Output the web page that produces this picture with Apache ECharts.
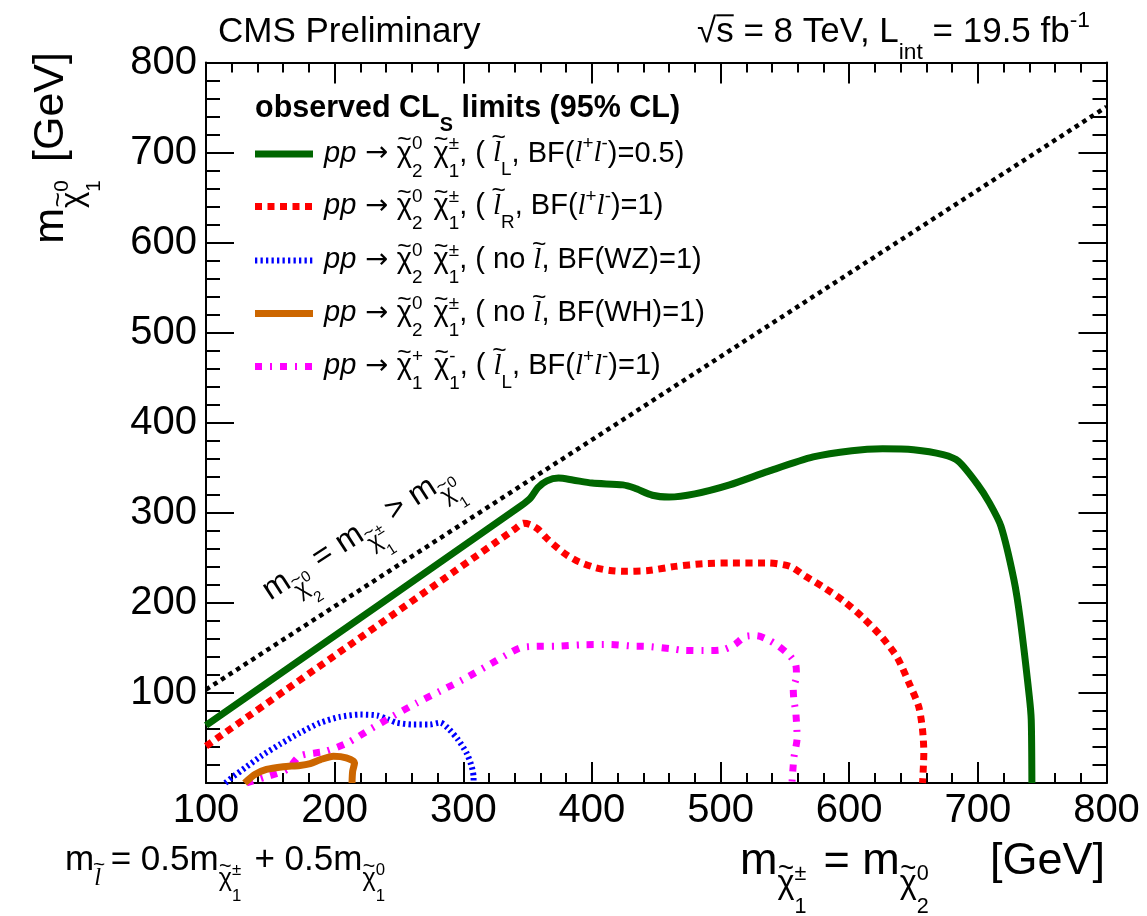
<!DOCTYPE html>
<html>
<head>
<meta charset="utf-8">
<script src="https://cdn.jsdelivr.net/npm/echarts@6/dist/echarts.min.js"></script>
<style>
  html, body { margin: 0; padding: 0; background: #fff; }
  #chart { width: 1147px; height: 916px; }
</style>
</head>
<body>
<div id="chart"></div>
<script>
// ---- exclusion contours (x: chargino/neutralino2 mass, y: LSP mass, GeV) ----
const kinX = [100, 800];
const kinY = [103.7, 750.8];

const greenX = [100, 345, 352, 358, 365, 374, 385, 400, 424, 433, 447, 460, 480, 507, 537, 572, 602, 626, 650, 673, 685, 700, 709, 718, 728, 733, 740, 741.5, 742];
const greenY = [64, 308, 316, 328, 335.5, 338.6, 336.5, 333, 331, 327.5, 319.5, 317.5, 321, 331, 346, 362, 369, 371, 370, 364.5, 357, 331, 311, 285, 226, 181, 96, 70, 0];

const redX = [100, 340, 347, 352, 358, 364, 370, 380, 390, 403, 414, 424, 444, 465, 486, 507, 537, 554, 566, 581, 596, 611, 626, 637.5, 646.5, 654, 657, 658, 657];
const redY = [41, 282, 288.5, 287, 282, 273, 265, 253.5, 245.5, 239, 236, 235, 236, 240.5, 243.5, 244.3, 244.3, 240.5, 229.5, 216.5, 201.7, 183.3, 161, 139, 111, 85, 59, 33.5, 0];

const blueX = [115, 121, 131.5, 143, 157.5, 173, 188.5, 204, 220, 233, 242, 248, 261, 274, 282, 288, 296, 302.5, 306.5, 308, 308];
const blueY = [0, 7, 18, 30, 43, 55.7, 66.8, 73.4, 76, 75, 70.5, 67, 65, 65, 67, 61, 48, 33.5, 18.6, 6, 0];

const orangeX = [130, 138, 147, 160, 173, 181, 189, 199, 209, 215.5, 214, 213.5];
const orangeY = [0, 9.5, 15, 18, 19.5, 21.6, 26, 29.7, 28, 22.5, 13, 0];

const magentaX = [131.5, 147, 163, 173, 193, 210, 228, 245, 264, 282, 300, 318, 334, 344, 352, 373, 393, 414, 432, 442, 462, 471, 492, 502, 511, 519, 528, 537, 545, 554, 558.5, 559, 556.5, 557, 558.5, 559.5, 557, 555.5];
const magentaY = [0, 7, 15, 30, 35.3, 44.6, 60, 74, 89, 102, 115, 129.6, 142.6, 150, 151.5, 152, 153.5, 153.7, 152, 151.8, 149, 147.3, 147, 148, 153.7, 162.5, 163.6, 159, 152, 141, 131, 118, 104, 92, 78, 50, 28, 0];

// axis ranges
const xRange = [100, 800];
const yRange = [0, 800];

// ---- line styles shared by curves and legend samples ----
const styles = {
  kin:     { color: '#000000', width: 4.5, type: [4.5, 4.5] },
  green:   { color: '#006600', width: 7,   type: 'solid' },
  red:     { color: '#ff0000', width: 7,   type: [7, 5.5] },
  blue:    { color: '#0000ff', width: 6,   type: [2.3, 3.2] },
  orange:  { color: '#cc6600', width: 7,   type: 'solid' },
  magenta: { color: '#ff00ff', width: 7,   type: [7, 8, 2, 8] }
};

// ---- text helpers: simple sub/superscript layout ----
const SANS = '"Liberation Sans", Arial, Helvetica, sans-serif';
const SERIF = '"Liberation Serif", "Times New Roman", serif';
const CHI = '\u03C7';
const mctx = document.createElement('canvas').getContext('2d');
function fontStr(size, p) {
  const fam = p.fam || (p.serif ? SERIF : SANS);
  return (p.it ? 'italic ' : '') + (p.b ? 'bold ' : '') + size.toFixed(2) + 'px ' + fam;
}
function textW(t, font) { mctx.font = font; return mctx.measureText(t).width; }

const T = (t, e) => Object.assign({ t }, e || {});
const I = (t) => ({ t, it: true });
const ELL = (e) => Object.assign({ t: 'l', it: true, serif: true }, e || {});
const SLEP = (e) => ELL(Object.assign({ tl: true, tly: 0.84, tlx: 0.06 }, e || {}));
const SUP = (t, e) => Object.assign({ t, s: 0.65, dy: -0.45 }, e || {});
const SUB = (t, e) => Object.assign({ t, s: 0.65, dy: 0.45 }, e || {});
const STK = (up, dn, e) => Object.assign({ up, dn }, e || {});
const ARROW = { t: ' \u2192 ', fam: '"DejaVu Sans", sans-serif', s: 0.95 };
// chi with tilde at main level, and as a subscript carrying its own indices
const CH = (e) => T(CHI, Object.assign({ tl: true }, e || {}));
const CHISUB = (up, dn, pad) => [CH({ s: 0.72, dy: 0.42 }), STK(up, dn, { s: 0.48, du: 0.1, dd: 0.84, pad: pad || 0 })];

function formula(parts, M, o) {
  const els = [];
  let x = 0;
  const mk = (t, p, size, base, x0, align) => {
    const font = fontStr(size, p);
    els.push({
      type: 'text', x: x0, y: base - 0.32 * size, silent: true,
      style: { text: t, font, fill: '#000', align: align || 'left', verticalAlign: 'middle',
        textAlign: align || 'left', textVerticalAlign: 'middle' }
    });
    return textW(t, font);
  };
  parts.flat().forEach(p => {
    if (p.up !== undefined || p.dn !== undefined) {
      const size = (p.s || 0.65) * M;
      let w = 0;
      if (p.up !== undefined) w = Math.max(w, mk(p.up, p, size, (p.du ?? -0.45) * M, x));
      if (p.dn !== undefined) w = Math.max(w, mk(p.dn, p, size, (p.dd ?? 0.5) * M, x));
      x += w + (p.pad || 0) * M;
    } else {
      const size = (p.s || 1) * M;
      const base = (p.dy || 0) * M;
      const w = mk(p.t, p, size, base, x);
      if (p.tl) {
        // tilde accent centred over the glyph
        const ts = size * 0.85;
        els.push({
          type: 'text', silent: true,
          x: x + w / 2 + (p.tlx || 0) * size,
          y: base - (p.tly || 0.78) * size,
          style: { text: '~', font: ts.toFixed(2) + 'px ' + SANS, fill: '#000', align: 'center', verticalAlign: 'middle',
            textAlign: 'center', textVerticalAlign: 'middle' }
        });
      }
      if (p.ov) {
        els.push({ type: 'line', silent: true,
          shape: { x1: x, y1: base - p.ov * size, x2: x + w, y2: base - p.ov * size },
          style: { stroke: '#000', lineWidth: 2 } });
      }
      x += w + (p.pad || 0) * M;
    }
  });
  const shift = o.align === 'right' ? -x : (o.align === 'center' ? -x / 2 : 0);
  els.forEach(e => {
    if (e.type === 'text') e.x += shift;
    else { e.shape.x1 += shift; e.shape.x2 += shift; }
  });
  return { type: 'group', x: o.x, y: o.y, rotation: o.rot || 0, silent: true, children: els };
}

// ---- legend ----
const legendTitle = [T('observed CL', { b: true }), SUB('S', { b: true }), T(' limits (95% CL)', { b: true })];
const BFll = [T(', BF('), ELL(), SUP('+'), ELL(), SUP('-')];
const NN = [CH(), STK('0', '2', { pad: 0.1 }), T(' '), CH(), STK('\u00B1', '1')];
const CC = [CH(), STK('+', '1', { pad: 0.1 }), T(' '), CH(), STK('-', '1')];
const legendRows = [
  { key: 'green',   parts: [I('pp'), ARROW, NN, T(', ( '), SLEP(), SUB('L'), BFll, T(')=0.5)')] },
  { key: 'red',     parts: [I('pp'), ARROW, NN, T(', ( '), SLEP(), SUB('R'), BFll, T(')=1)')] },
  { key: 'blue',    parts: [I('pp'), ARROW, NN, T(', ( no '), SLEP(), T(', BF(WZ)=1)')] },
  { key: 'orange',  parts: [I('pp'), ARROW, NN, T(', ( no '), SLEP(), T(', BF(WH)=1)')] },
  { key: 'magenta', parts: [I('pp'), ARROW, CC, T(', ( '), SLEP(), SUB('L'), BFll, T(')=1)')] }
];
const legendRowY = [154, 206.5, 260.5, 313.5, 366.5];

const graphics = [];
graphics.push(formula(legendTitle, 30.5, { x: 255, y: 118 }));
legendRows.forEach((row, i) => {
  const st = styles[row.key];
  const y = legendRowY[i];
  graphics.push({
    type: 'line', silent: true,
    shape: { x1: 255, y1: y, x2: 313, y2: y },
    style: { stroke: st.color, lineWidth: st.width, lineDash: Array.isArray(st.type) ? st.type : null, lineCap: 'butt' }
  });
  graphics.push(formula(row.parts, 29, { x: 324, y: y + 9 }));
});

// ---- header / annotations / axis titles ----
graphics.push(formula([T('CMS Preliminary')], 35, { x: 218, y: 44 }));
graphics.push(formula([T('\u221A'), T('s', { ov: 0.82 }), T(' = 8 TeV, L'), SUB('int'), T(' = 19.5 fb'), SUP('-1')], 35, { x: 697, y: 44 }));
graphics.push(formula([T('m'), SLEP({ s: 0.7, dy: 0.4 }), T(' = 0.5m'), CHISUB('\u00B1', '1', 0.1), T(' + 0.5m'), CHISUB('0', '1')], 35, { x: 65, y: 872 }));
graphics.push(formula([T('m'), CHISUB('\u00B1', '1', 0.1), T(' = m'), CHISUB('0', '2')], 45, { x: 740, y: 876 }));
graphics.push(formula([T('[GeV]')], 45, { x: 1105, y: 876, align: 'right' }));
graphics.push(formula([T('m'), CHISUB('0', '1', 0.15), T(' [GeV]')], 43, { x: 65, y: 52, align: 'right', rot: Math.PI / 2 }));
graphics.push(formula([T('m'), CHISUB('0', '2', 0.1), T(' = m'), CHISUB('\u00B1', '1', 0.1), T(' > m'), CHISUB('0', '1')], 32, { x: 271, y: 602, rot: 32.9 * Math.PI / 180 }));

// ---- axes ----
const axisCommon = {
  type: 'value',
  interval: 100,
  splitLine: { show: false },
  axisLine: { show: true, onZero: false, lineStyle: { color: '#000', width: 2 } }
};
const xAxisBase = Object.assign({}, axisCommon, {
  min: xRange[0], max: xRange[1],
  axisTick: { show: true, inside: true, length: 21, lineStyle: { color: '#000', width: 2 } },
  minorTick: { show: true, splitNumber: 5, length: 10, lineStyle: { color: '#000', width: 2 } }
});
const yAxisBase = Object.assign({}, axisCommon, {
  min: yRange[0], max: yRange[1],
  axisTick: { show: true, inside: true, length: 28, lineStyle: { color: '#000', width: 2 } },
  minorTick: { show: true, splitNumber: 5, length: 14, lineStyle: { color: '#000', width: 2 } }
});

const zip = (xs, ys) => xs.map((x, i) => [x, ys[i]]);
function curve(key, xs, ys, smooth) {
  const st = styles[key];
  return {
    type: 'line', data: zip(xs, ys), showSymbol: false, symbol: 'none', smooth: smooth,
    silent: true, clip: true,
    lineStyle: { color: st.color, width: st.width, type: st.type, cap: 'butt', join: 'round' }
  };
}

const chart = echarts.init(document.getElementById('chart'), null, { renderer: 'canvas' });
chart.setOption({
  animation: false,
  backgroundColor: '#fff',
  grid: { left: 206, right: 40.5, top: 62.5, bottom: 133, containLabel: false, outerBoundsMode: 'none' },
  xAxis: [
    Object.assign({}, xAxisBase, {
      position: 'bottom',
      axisLabel: { show: true, color: '#000', fontSize: 40, fontFamily: SANS, margin: 8 }
    }),
    Object.assign({}, xAxisBase, { position: 'top', axisLabel: { show: false } })
  ],
  yAxis: [
    Object.assign({}, yAxisBase, {
      position: 'left',
      axisLabel: { show: true, color: '#000', fontSize: 40, fontFamily: SANS, margin: 9,
        formatter: v => (v === 0 ? '' : String(v)) }
    }),
    Object.assign({}, yAxisBase, { position: 'right', axisLabel: { show: false } })
  ],
  series: [
    curve('kin', kinX, kinY, false),
    curve('green', greenX, greenY, 0.25),
    curve('red', redX, redY, 0.25),
    curve('blue', blueX, blueY, 0.25),
    curve('magenta', magentaX, magentaY, 0.25),
    curve('orange', orangeX, orangeY, 0.25)
  ],
  graphic: { elements: graphics }
});
</script>
</body>
</html>
